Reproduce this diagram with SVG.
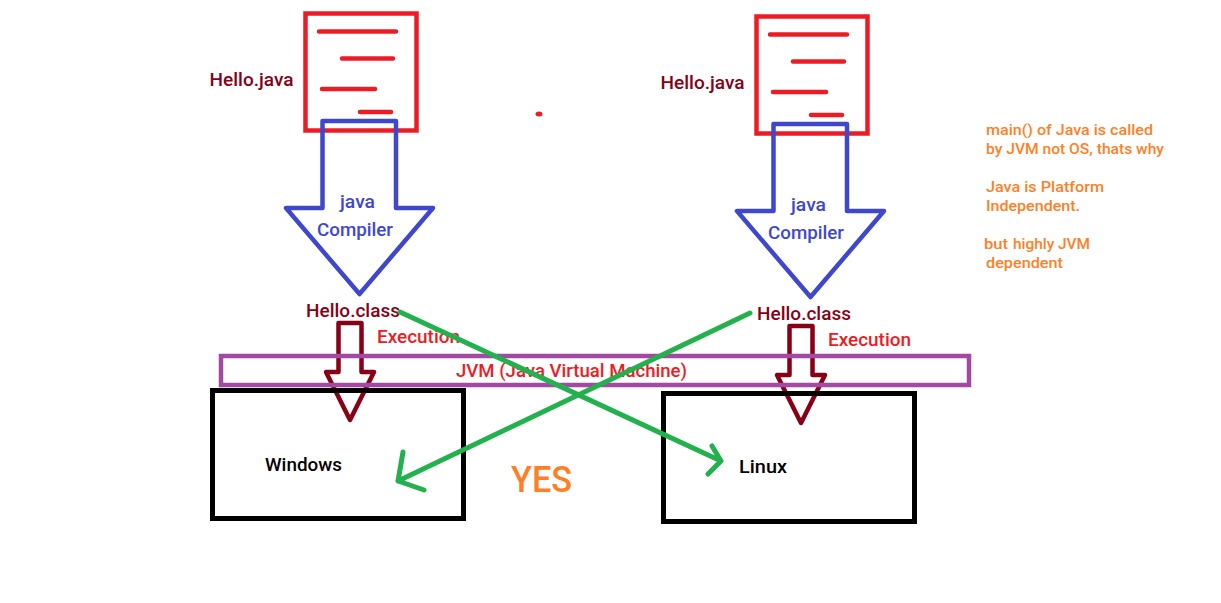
<svg xmlns="http://www.w3.org/2000/svg" width="1221" height="603" viewBox="0 0 1221 603">
<style>
text{font-family:"Roboto","Liberation Sans",sans-serif;font-weight:500;font-size:18.500px}
.s{fill:none;stroke-width:4.5;stroke-linejoin:miter}
.l{fill:none;stroke:#ED1C24;stroke-width:4.5;stroke-linecap:round}
.doc{stroke:#ED1C24}.blue{stroke:#3F48CC;stroke-linejoin:round}.brown{stroke:#880015;stroke-linejoin:round}
.os{stroke:#000;stroke-width:5}.g{fill:none;stroke:#22B14C;stroke-width:5;stroke-linecap:round;stroke-linejoin:round}
.dr{fill:#880015}.r{fill:#ED1C24}.b{fill:#3F48CC}.k{fill:#000}.o{fill:#FF7F27;font-size:15.500px}
</style>
<rect width="1221" height="603" fill="#fff"/>
<g id="exec-left"><path class="s brown" d="M338.500 372V323H361.500V372H374L350 420L326 372Z"/>
<text class="dr" x="306" y="317" textLength="94" lengthAdjust="spacingAndGlyphs">Hello.class</text><text class="r" x="377" y="343" textLength="83" lengthAdjust="spacingAndGlyphs">Execution</text></g>
<g id="exec-right"><path class="s brown" d="M789.500 375V326H812.500V375H825L801 423L777 375Z"/>
<text class="dr" x="757" y="320" textLength="94" lengthAdjust="spacingAndGlyphs">Hello.class</text><text class="r" x="828" y="346" textLength="83" lengthAdjust="spacingAndGlyphs">Execution</text></g>
<g id="jvm"><rect class="s" x="221" y="356" width="748" height="29" stroke="#A349A4"/><text class="r" x="456" y="377" textLength="231" lengthAdjust="spacingAndGlyphs">JVM (Java Virtual Machine)</text></g>
<g id="windows"><rect class="s os" x="212.5" y="390.5" width="251" height="128"/><text class="k" x="265" y="471" textLength="77" lengthAdjust="spacingAndGlyphs">Windows</text></g>
<g id="linux"><rect class="s os" x="663.5" y="393.5" width="251" height="128"/><text class="k" x="739" y="473" textLength="48" lengthAdjust="spacingAndGlyphs">Linux</text></g>
<g id="source-left"><rect class="s doc" x="305.5" y="13.5" width="111" height="117"/>
<path class="l" d="M319 31.5H396M342 58.5H393M322 89H375M360 112H391"/>
<text class="dr" x="209.5" y="85.500" textLength="84" lengthAdjust="spacingAndGlyphs">Hello.java</text></g>
<g id="source-right"><rect class="s doc" x="756.5" y="16.5" width="111" height="117"/>
<path class="l" d="M770 34.5H847M793 61.5H844M773 92H826M811 115H842"/>
<text class="dr" x="660.5" y="88.500" textLength="84" lengthAdjust="spacingAndGlyphs">Hello.java</text></g>
<g id="compiler-left"><path class="s blue" d="M322.500 208V121H396V208H433L359.500 294L286 208Z"/>
<text class="b" x="340" y="208" textLength="35" lengthAdjust="spacingAndGlyphs">java</text><text class="b" x="317" y="236" textLength="76" lengthAdjust="spacingAndGlyphs">Compiler</text></g>
<g id="compiler-right"><path class="s blue" d="M773.500 211V124H847V211H884L810.500 297L737 211Z"/>
<text class="b" x="791" y="211" textLength="35" lengthAdjust="spacingAndGlyphs">java</text><text class="b" x="768" y="239" textLength="76" lengthAdjust="spacingAndGlyphs">Compiler</text></g>
<g id="connectors"><path class="g" d="M400 312L721 461M712 446L721 461L708 474"/><path class="g" d="M750 313L398 481M403 452L398 481L424 490"/></g>
<g id="notes">
<ellipse cx="539" cy="114" rx="3.500" ry="2.500" fill="#ED1C24"/>
<text x="511" y="492" fill="#FF7F27" style="font-size:36px" textLength="61" lengthAdjust="spacingAndGlyphs">YES</text>
<text class="o" x="986" y="135" textLength="167" lengthAdjust="spacingAndGlyphs">main() of Java is called</text>
<text class="o" x="986" y="154" textLength="178" lengthAdjust="spacingAndGlyphs">by JVM not OS, thats why</text>
<text class="o" x="986" y="192" textLength="118" lengthAdjust="spacingAndGlyphs">Java is Platform</text>
<text class="o" x="986" y="211" textLength="94" lengthAdjust="spacingAndGlyphs">Independent.</text>
<text class="o" x="984" y="249" textLength="24" lengthAdjust="spacingAndGlyphs">but</text>
<text class="o" x="1013" y="249" textLength="77" lengthAdjust="spacingAndGlyphs">highly JVM</text>
<text class="o" x="986" y="268" textLength="77" lengthAdjust="spacingAndGlyphs">dependent</text>
</g>
</svg>
